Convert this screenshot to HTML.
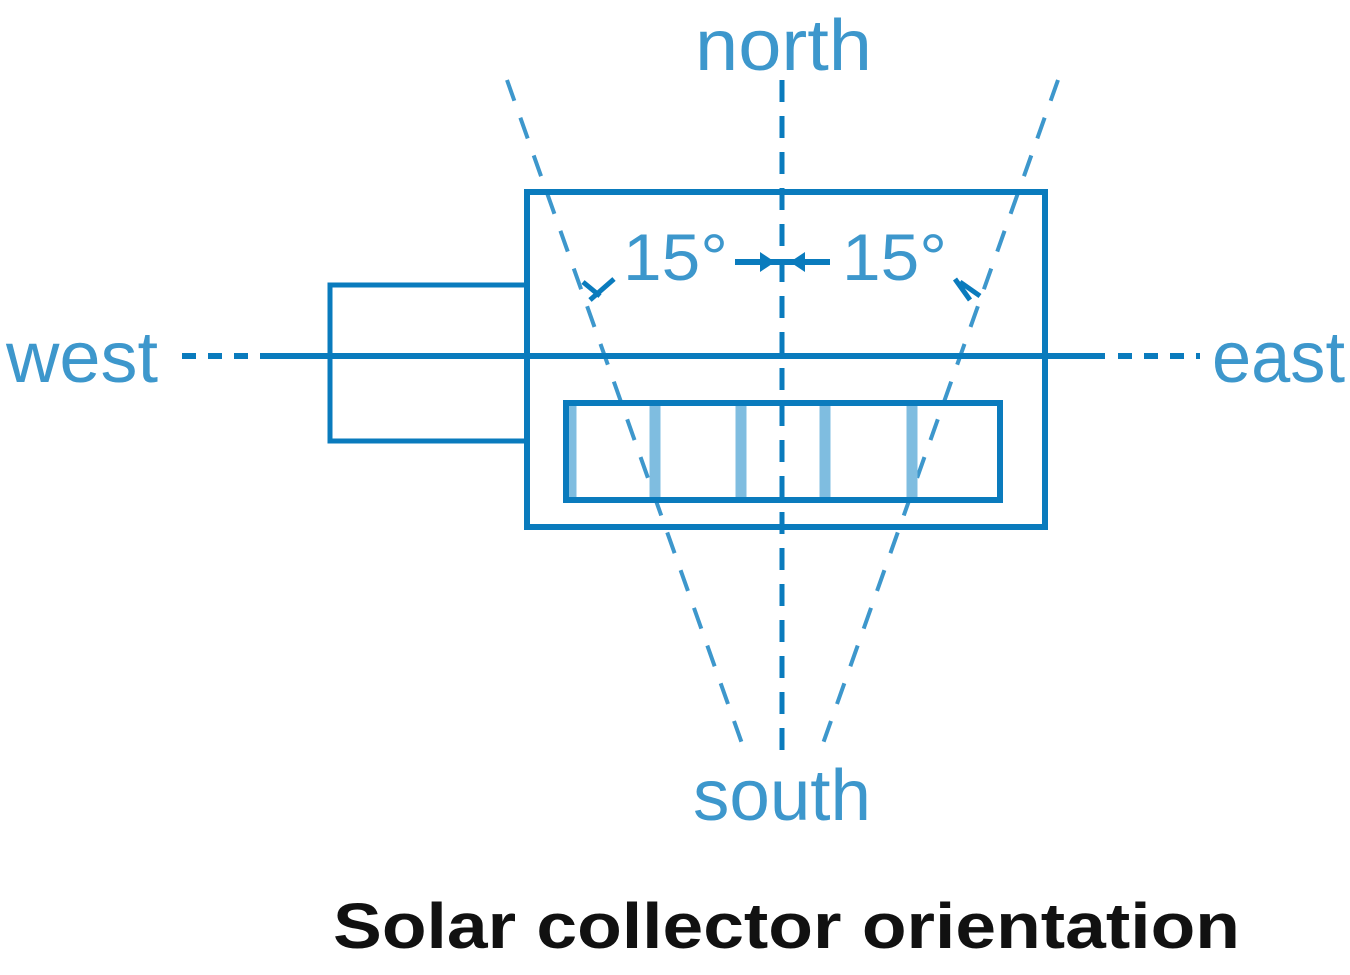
<!DOCTYPE html>
<html><head><style>html,body{margin:0;padding:0;background:#fff;}</style></head>
<body>
<svg width="1350" height="970" viewBox="0 0 1350 970" xmlns="http://www.w3.org/2000/svg">
<g fill="none" stroke="#0a7bbd">
  <!-- center vertical dashed -->
  <line x1="782" y1="80" x2="782" y2="760" stroke-width="5" stroke-dasharray="22,14"/>
  <!-- diagonals -->
  <line x1="507" y1="80" x2="745" y2="752" stroke-width="4" stroke-dasharray="22,18" stroke="#3d97cc"/>
  <line x1="1058" y1="80" x2="820" y2="752" stroke-width="4" stroke-dasharray="22,18" stroke="#3d97cc"/>
  <!-- horizontal -->
  <line x1="260" y1="356" x2="1105" y2="356" stroke-width="6"/>
  <line x1="182" y1="356" x2="260" y2="356" stroke-width="6" stroke-dasharray="14,12"/>
  <line x1="1118" y1="356" x2="1200" y2="356" stroke-width="6" stroke-dasharray="14,12"/>
  <!-- outer rect -->
  <rect x="527" y="192" width="518" height="335" stroke-width="6"/>
  <!-- left box -->
  <polyline points="527,285 330,285 330,441 527,441" stroke-width="5"/>
  <!-- inner collector -->
  <g stroke="#7fbde0" stroke-width="11">
    <line x1="571" y1="405" x2="571" y2="498"/>
    <line x1="655" y1="405" x2="655" y2="498"/>
    <line x1="741" y1="405" x2="741" y2="498"/>
    <line x1="825" y1="405" x2="825" y2="498"/>
    <line x1="912" y1="405" x2="912" y2="498"/>
  </g>
  <rect x="566" y="403" width="434" height="97" stroke-width="6"/>
  <!-- angle dimension -->
  <line x1="735" y1="262" x2="830" y2="262" stroke-width="6"/>
  <path d="M583,282 L600,296 M590,300 L614,279" stroke-width="5"/>
  <path d="M960,282 L980,296 M970,300 L955,279" stroke-width="5"/>
</g>
<g fill="#0a7bbd">
  <polygon points="760,252 775,262 760,272"/>
  <polygon points="805,252 790,262 805,272"/>
</g>
<g font-family="Liberation Sans, sans-serif" fill="#3d97cc">
  <text x="695" y="70" font-size="72" textLength="177" lengthAdjust="spacingAndGlyphs">north</text>
  <text x="6" y="382" font-size="72" textLength="152" lengthAdjust="spacingAndGlyphs">west</text>
  <text x="1212" y="382" font-size="72" textLength="133" lengthAdjust="spacingAndGlyphs">east</text>
  <text x="693" y="820" font-size="72" textLength="178" lengthAdjust="spacingAndGlyphs">south</text>
  <text x="623" y="280" font-size="66" textLength="105" lengthAdjust="spacingAndGlyphs">15°</text>
  <text x="842" y="280" font-size="66" textLength="105" lengthAdjust="spacingAndGlyphs">15°</text>
</g>
<text x="333" y="948" font-family="Liberation Sans, sans-serif" font-weight="bold" font-size="64" fill="#111" textLength="907" lengthAdjust="spacingAndGlyphs">Solar collector orientation</text>
</svg>
</body></html>
